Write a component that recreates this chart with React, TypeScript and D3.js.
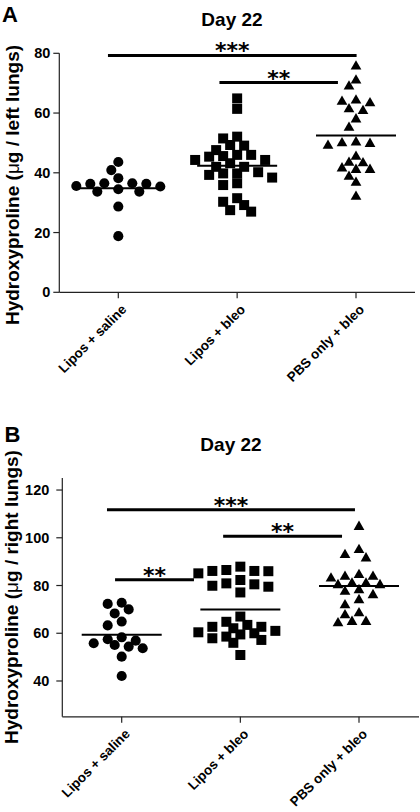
import React from "react";
import * as d3 from "d3";

// ---------- data ----------
const categories = ["Lipos + saline", "Lipos + bleo", "PBS only + bleo"];

// Panel A: hydroxyproline, left lungs (µg)
const leftSaline = [43.6, 40.9, 38.2, 36.5, 36.5, 36.3, 36.3, 35.6, 35.4, 34.5, 33.7, 33.7, 28.7, 18.8];
const leftLiposBleo = [64.9, 61.4, 52.1, 51.5, 49.3, 49.1, 47.6, 46.0, 46.0, 45.4, 45.6, 44.3, 44.3, 43.2, 42.0, 42.0, 40.2, 39.8, 39.3, 39.8, 38.4, 35.9, 36.5, 31.5, 29.2, 30.3, 27.0, 27.5];
const leftPbsBleo = [75.6, 70.9, 68.9, 63.8, 63.3, 64.2, 61.3, 60.7, 57.9, 55.1, 49.7, 50.2, 49.1, 49.9, 45.4, 43.4, 41.5, 41.0, 43.2, 41.0, 38.7, 36.7, 32.0];
const leftMeans = [34.8, 42.4, 52.5];
const leftTicks = [0, 20, 40, 60, 80];

// Panel B: hydroxyproline, right lungs (µg)
const rightSaline = [72.8, 72.3, 70.0, 68.3, 64.9, 63.3, 58.3, 56.9, 57.5, 54.4, 55.8, 53.7, 55.1, 50.2, 42.1];
const rightLiposBleo = [86.5, 86.1, 87.9, 86.0, 86.1, 85.1, 80.5, 79.5, 82.3, 79.9, 80.9, 77.1, 67.0, 60.4, 62.1, 63.5, 64.8, 62.7, 62.7, 60.0, 58.6, 57.9, 57.2, 50.9, 61.0, 59.5, 56.0];
const rightPbsBleo = [104.6, 94.9, 92.8, 91.4, 83.7, 83.0, 84.4, 83.7, 80.9, 80.2, 80.2, 80.9, 77.4, 78.1, 76.0, 73.9, 71.8, 68.4, 64.8, 64.2, 64.8, 67.6];
const rightMeans = [59.4, 70.0, 79.8];
const rightTicks = [40, 60, 80, 100, 120];

// significance bars: from/to in category index units, value in y units
const leftSig = [
  { from: -0.087, to: 2.005, value: 79.3, label: "***" },
  { from: 0.851, to: 1.848, value: 70.2, label: "**" },
];
const rightSig = [
  { from: -0.124, to: 1.966, value: 111.7, label: "***" },
  { from: 0.855, to: 1.857, value: 100.6, label: "**" },
  { from: -0.056, to: 0.609, value: 82.4, label: "**" },
];

const FONT = "'Liberation Sans', Arial, Helvetica, sans-serif";
const STARFONT = "'DejaVu Sans', sans-serif";

const symbolTypes = [d3.symbolCircle, d3.symbolSquare, d3.symbolTriangle];
const symbolSizes = [80, 100, 50];

function swarm(values: number[], y: (v: number) => number, step: number, minDist: number) {
  const order = values.map((_, i) => i).sort((a, b) => values[b] - values[a]);
  const placed: { dx: number; py: number }[] = [];
  const out: { dx: number; py: number }[] = new Array(values.length);
  for (const i of order) {
    const py = y(values[i]);
    let chosen = 0;
    for (let k = 0; k < 60; k++) {
      const dx = (k % 2 === 0 ? 1 : -1) * Math.ceil(k / 2) * step;
      const hit = placed.some((p) => Math.hypot(p.dx - dx, p.py - py) < minDist);
      if (!hit) {
        chosen = dx;
        break;
      }
    }
    const pt = { dx: chosen, py };
    placed.push(pt);
    out[i] = pt;
  }
  return out;
}

type PanelProps = {
  letter: string;
  groups: number[][];
  means: number[];
  ticks: number[];
  sig: { from: number; to: number; value: number; label: string }[];
  domain: [number, number];
  yRange: [number, number];
  axisX: number;
  axisRight: number;
  xRange: [number, number];
  yLabel: [string, string];
  yLabelX: number;
  yLabelY: number;
  titleY: number;
  titleX: number;
  letterY: number;
  letterX: number;
  tickLabelGap: number;
};

function Panel(p: PanelProps) {
  const y = d3.scaleLinear().domain(p.domain).range(p.yRange);
  const x = d3.scalePoint<string>().domain(categories).range(p.xRange);
  const xi = d3.scaleLinear().domain([0, 2]).range(p.xRange);
  const axisY = p.yRange[0];
  const axisTop = p.yRange[1];
  return (
    <g>
      <text x={p.letterX} y={p.letterY} fontFamily={FONT} fontWeight="bold" fontSize={22}>
        {p.letter}
      </text>
      <text x={p.titleX} y={p.titleY} textAnchor="middle" fontFamily={FONT} fontWeight="bold" fontSize={19}>
        Day 22
      </text>
      <text
        transform={`translate(${p.yLabelX},${p.yLabelY}) rotate(-90)`}
        textAnchor="middle"
        fontFamily={FONT}
        fontWeight="bold"
        fontSize={19}
      >
        {p.yLabel[0]}
        <tspan fontWeight="normal">μ</tspan>
        {p.yLabel[1]}
      </text>
      {/* axes */}
      <line x1={p.axisX} x2={p.axisX} y1={axisTop} y2={axisY} stroke="#222" strokeWidth={1.2} />
      <line x1={p.axisX} x2={p.axisRight} y1={axisY} y2={axisY} stroke="#222" strokeWidth={1.2} />
      {p.ticks.map((t) => (
        <g key={t}>
          <line x1={p.axisX - 6} x2={p.axisX} y1={y(t)} y2={y(t)} stroke="#222" strokeWidth={1.2} />
          <text
            x={p.axisX - p.tickLabelGap}
            y={y(t)}
            dy="0.35em"
            textAnchor="end"
            fontFamily={FONT}
            fontWeight="bold"
            fontSize={14.5}
          >
            {t}
          </text>
        </g>
      ))}
      {categories.map((c) => (
        <g key={c}>
          <line x1={x(c)} x2={x(c)} y1={axisY} y2={axisY + 6} stroke="#222" strokeWidth={1.2} />
          <text
            transform={`translate(${(x(c) as number) + 9},${axisY + 18}) rotate(-45)`}
            textAnchor="end"
            fontFamily={FONT}
            fontWeight="bold"
            fontSize={13.5}
          >
            {c}
          </text>
        </g>
      ))}
      {/* points */}
      {p.groups.map((vals, gi) => {
        const pts = swarm(vals, y, 7, 9);
        const path = d3.symbol(symbolTypes[gi], symbolSizes[gi])() as string;
        const cx = x(categories[gi]) as number;
        return (
          <g key={gi}>
            {pts.map((pt, i) => (
              <path key={i} d={path} transform={`translate(${cx + pt.dx},${pt.py})`} fill="#000" />
            ))}
          </g>
        );
      })}
      {/* mean lines */}
      {p.means.map((m, gi) => {
        const cx = x(categories[gi]) as number;
        return <line key={gi} x1={cx - 40} x2={cx + 40} y1={y(m)} y2={y(m)} stroke="#000" strokeWidth={2} />;
      })}
      {/* significance */}
      {p.sig.map((s, i) => {
        const x1 = xi(s.from);
        const x2 = xi(s.to);
        return (
          <g key={i}>
            <line x1={x1} x2={x2} y1={y(s.value)} y2={y(s.value)} stroke="#000" strokeWidth={3} />
            <text
              x={(x1 + x2) / 2}
              y={y(s.value) + 3}
              textAnchor="middle"
              fontFamily={STARFONT}
              fontWeight="bold"
              fontSize={22}
            >
              {s.label}
            </text>
          </g>
        );
      })}
    </g>
  );
}

export default function App() {
  return (
    <svg
      width={420}
      height={812}
      viewBox="0 0 420 812"
      style={{ position: "absolute", left: 0, top: 0, background: "#fff" }}
    >
      <rect width={420} height={812} fill="#fff" />
      <Panel
        letter="A"
        groups={[leftSaline, leftLiposBleo, leftPbsBleo]}
        means={leftMeans}
        ticks={leftTicks}
        sig={leftSig}
        domain={[0, 80]}
        yRange={[292.3, 53.3]}
        axisX={59.3}
        axisRight={415}
        xRange={[118.3, 356]}
        yLabel={["Hydroxyproline (", "g / left lungs)"]}
        yLabelX={19}
        yLabelY={185}
        titleX={232}
        titleY={26}
        letterX={2}
        letterY={22}
        tickLabelGap={9}
      />
      <Panel
        letter="B"
        groups={[rightSaline, rightLiposBleo, rightPbsBleo]}
        means={rightMeans}
        ticks={rightTicks}
        sig={rightSig}
        domain={[25, 125]}
        yRange={[716.8, 478.1]}
        axisX={62.3}
        axisRight={419}
        xRange={[121.7, 359]}
        yLabel={["Hydroxyproline (", "g / right lungs)"]}
        yLabelX={18}
        yLabelY={597}
        titleX={231}
        titleY={450.5}
        letterX={4.5}
        letterY={441.5}
        tickLabelGap={13}
      />
    </svg>
  );
}
